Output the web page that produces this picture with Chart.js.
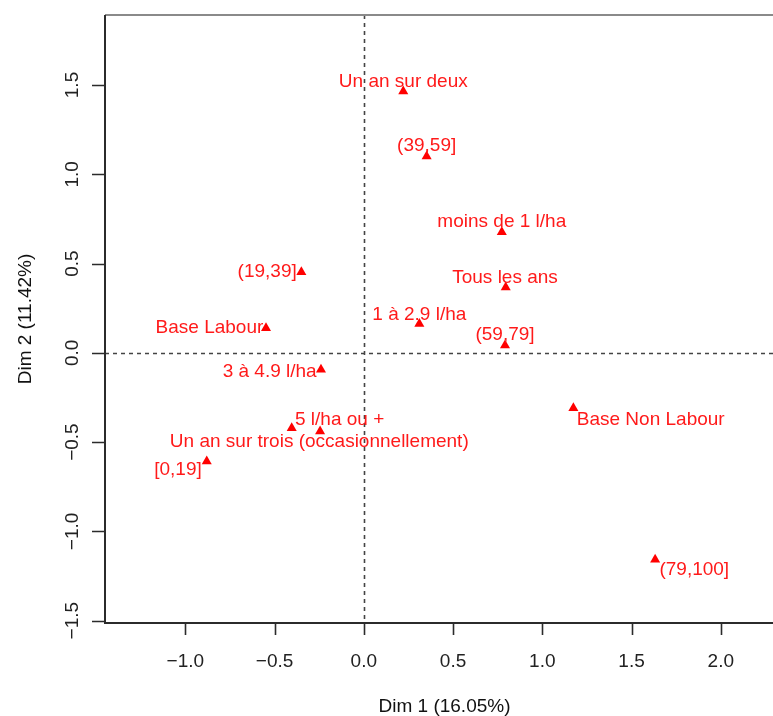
<!DOCTYPE html>
<html>
<head>
<meta charset="utf-8">
<title>MCA - modalités</title>
<script src="https://cdn.jsdelivr.net/npm/chart.js@4/dist/chart.umd.min.js"></script>
<style>
  html, body { margin: 0; padding: 0; background: #fff; overflow: hidden; }
  #wrap { width: 773px; height: 716px; overflow: hidden; }
  canvas { display: block; }
</style>
</head>
<body>
<div id="wrap"><canvas id="mca" width="784" height="716"></canvas></div>
<script>
// Category coordinates on the first two MCA dimensions
const categories = [
  'Un an sur deux',
  '(39,59]',
  'moins de 1 l/ha',
  'Tous les ans',
  '(59,79]',
  '1 à 2.9 l/ha',
  '(19,39]',
  'Base Labour',
  '3 à 4.9 l/ha',
  '5 l/ha ou +',
  'Un an sur trois (occasionnellement)',
  '[0,19]',
  'Base Non Labour',
  '(79,100]'
];
const dim1 = [0.221, 0.352, 0.773, 0.795, 0.791, 0.311, -0.350, -0.548, -0.240, -0.404, -0.245, -0.880, 1.174, 1.632];
const dim2 = [1.464, 1.100, 0.676, 0.367, 0.042, 0.163, 0.452, 0.139, -0.094, -0.421, -0.440, -0.608, -0.309, -1.158];

const xTickValues = [-1.0, -0.5, 0.0, 0.5, 1.0, 1.5, 2.0];
const yTickValues = [-1.5, -1.0, -0.5, 0.0, 0.5, 1.0, 1.5];
const xTitle = 'Dim 1 (16.05%)';
const yTitle = 'Dim 2 (11.42%)';

// Label placement around each point: pixel shift of the text anchor and alignment
const labelPlacement = [
  [0, -4, 'center'],
  [0, -5.7, 'center'],
  [0, -4.8, 'center'],
  [-0.7, -4.1, 'center'],
  [0, -5.4, 'center'],
  [0, -3.7, 'center'],
  [-4.6, 4.6, 'right'],
  [-2.7, 4.6, 'right'],
  [-4.3, 7.0, 'right'],
  [3.3, -3.1, 'left'],
  [-0.8, 15.3, 'center'],
  [-5, 13.6, 'right'],
  [3.4, 16.9, 'left'],
  [4.3, 15.3, 'left']
];

const FONT = '19px "Liberation Sans", Arial, Helvetica, sans-serif';
const fmt = v => v.toFixed(1).replace('-', '\u2212');

const rFrame = {
  id: 'rFrame',
  beforeDatasetsDraw(chart) {
    const { ctx, chartArea: a, scales: { x, y } } = chart;
    ctx.save();
    // zero reference lines
    ctx.strokeStyle = '#444';
    ctx.lineWidth = 1.6;
    ctx.setLineDash([4, 4]);
    const x0 = Math.round(x.getPixelForValue(0)) + 0.5;
    const y0 = Math.round(y.getPixelForValue(0)) + 0.5;
    ctx.beginPath();
    ctx.moveTo(x0, a.top); ctx.lineTo(x0, a.bottom);
    ctx.moveTo(a.left, y0); ctx.lineTo(a.right, y0);
    ctx.stroke();
    ctx.setLineDash([]);

    // box
    ctx.lineWidth = 2;
    ctx.strokeStyle = '#8a8a8a';
    ctx.beginPath();
    ctx.moveTo(a.left, a.top); ctx.lineTo(a.right, a.top); ctx.lineTo(a.right, a.bottom);
    ctx.stroke();
    ctx.strokeStyle = '#2b2b2b';
    ctx.beginPath();
    ctx.moveTo(a.left, a.top); ctx.lineTo(a.left, a.bottom); ctx.lineTo(a.right, a.bottom);
    ctx.stroke();

    // tick marks
    ctx.lineWidth = 1.6;
    ctx.beginPath();
    xTickValues.forEach(v => {
      const px = Math.round(x.getPixelForValue(v)) + 0.5;
      ctx.moveTo(px, a.bottom); ctx.lineTo(px, a.bottom + 12);
    });
    yTickValues.forEach(v => {
      const py = Math.round(y.getPixelForValue(v)) + 0.5;
      ctx.moveTo(a.left, py); ctx.lineTo(a.left - 13, py);
    });
    ctx.stroke();

    // tick labels
    ctx.font = FONT;
    ctx.fillStyle = '#222';
    ctx.textAlign = 'center';
    ctx.textBaseline = 'alphabetic';
    xTickValues.forEach(v => {
      ctx.fillText(fmt(v), x.getPixelForValue(v), a.bottom + 44);
    });
    yTickValues.forEach(v => {
      ctx.save();
      ctx.translate(a.left - 27, y.getPixelForValue(v));
      ctx.rotate(-Math.PI / 2);
      ctx.fillText(fmt(v), 0, 0);
      ctx.restore();
    });

    // axis titles
    ctx.fillStyle = '#111';
    ctx.fillText(xTitle, (a.left + a.right) / 2, a.bottom + 89);
    ctx.save();
    ctx.translate(a.left - 74.5, (a.top + a.bottom) / 2);
    ctx.rotate(-Math.PI / 2);
    ctx.fillText(yTitle, 0, 0);
    ctx.restore();
    ctx.restore();
  },
  afterDatasetsDraw(chart) {
    const { ctx } = chart;
    const meta = chart.getDatasetMeta(0);
    ctx.save();
    ctx.font = FONT;
    ctx.fillStyle = '#ff1a1a';
    ctx.textBaseline = 'alphabetic';
    meta.data.forEach((pt, i) => {
      const [dx, dy, align] = labelPlacement[i];
      ctx.textAlign = align;
      ctx.fillText(categories[i], pt.x + dx, pt.y + dy);
    });
    ctx.restore();
  }
};

new Chart(document.getElementById('mca'), {
  type: 'scatter',
  data: {
    datasets: [{
      label: 'modalités',
      data: categories.map((c, i) => ({ x: dim1[i], y: dim2[i] })),
      pointStyle: 'triangle',
      pointRadius: 5.8,
      pointHoverRadius: 5.8,
      backgroundColor: '#ff0000',
      borderColor: '#ff0000',
      borderWidth: 0
    }]
  },
  options: {
    responsive: false,
    animation: false,
    devicePixelRatio: 1,
    layout: { autoPadding: false, padding: { left: 105, top: 15, right: 0, bottom: 93 } },
    plugins: { legend: { display: false }, tooltip: { enabled: false } },
    scales: {
      x: { type: 'linear', display: false, min: -1.450, max: 2.354 },
      y: { type: 'linear', display: false, min: -1.513, max: 1.892 }
    }
  },
  plugins: [rFrame]
});
</script>
</body>
</html>
